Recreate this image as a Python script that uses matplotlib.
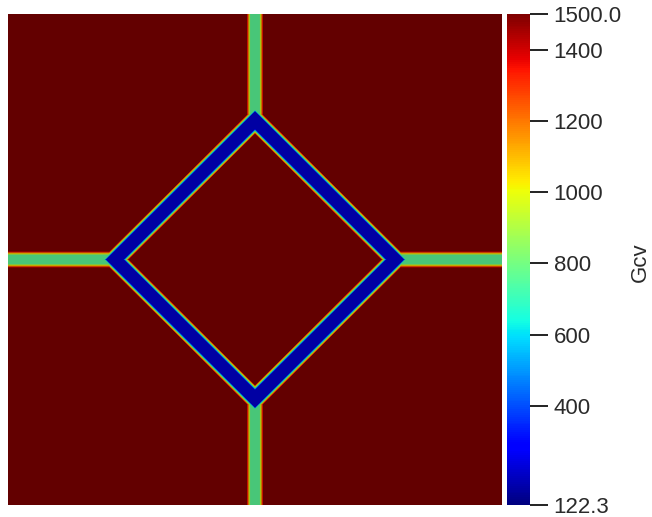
import numpy as np
import matplotlib
matplotlib.use("Agg")
import matplotlib.pyplot as plt
from matplotlib.colors import Normalize, ListedColormap
from matplotlib.cm import ScalarMappable

plt.rcParams['font.family'] = ['Liberation Sans', 'DejaVu Sans']

# Gcv values of the three phases
gcv_min = 122.3
gcv_max = 1500.0
gcv_matrix = 1500.0
gcv_crack = 220.0
gcv_branch = 760.0

# geometry (unit square)
center = (0.5, 0.5)
diamond_radius = 0.284
crack_half_width = 0.016
branch_half_width = 0.013
edge_soft = 0.004

cbar_ticks = [122.3, 400, 600, 800, 1000, 1200, 1400, 1500.0]
cbar_labels = ['122.3', '400', '600', '800', '1000', '1200', '1400', '1500.0']

nx, ny = 494, 491
x = np.linspace(0, 1, nx)
y = np.linspace(0, 1, ny)
X, Y = np.meshgrid(x, y)
dx = X - center[0]
dy = Y - center[1]


def band(dist, hw):
    # soft-edged band: 1 inside, 0 outside
    return np.clip((hw + edge_soft - dist) / (2 * edge_soft), 0, 1)


# diamond crack
d_diamond = np.abs(np.abs(dx) + np.abs(dy) - diamond_radius) / np.sqrt(2)
w_crack = band(d_diamond, crack_half_width)

# straight branches from the diamond tips to the edges
d_vert = np.where(np.abs(dy) >= diamond_radius, np.abs(dx), 1.0)
d_horz = np.where(np.abs(dx) >= diamond_radius, np.abs(dy), 1.0)
w_branch = np.maximum(band(d_vert, branch_half_width), band(d_horz, branch_half_width))

field_branch = gcv_matrix + (gcv_branch - gcv_matrix) * w_branch
field_crack = gcv_matrix + (gcv_crack - gcv_matrix) * w_crack
field = np.minimum(field_branch, field_crack)

norm = Normalize(vmin=gcv_min, vmax=gcv_max)
jet = plt.get_cmap('jet')
# surface colours are a bit darker than the bar (scene lighting)
shade = jet(np.linspace(0, 1, 256))
shade[:, :3] *= 0.78
jet_shaded = ListedColormap(shade)

fig = plt.figure(figsize=(6.52, 5.17), dpi=100)
W, H = 652, 517

ax = fig.add_axes([8 / W, 1 - 505 / H, 494 / W, 491 / H])
ax.imshow(field, cmap=jet_shaded, norm=norm, origin='lower',
          extent=[0, 1, 0, 1], aspect='auto', interpolation='bilinear')
ax.set_axis_off()

cax = fig.add_axes([507 / W, 1 - 505 / H, 23 / W, 491 / H])
sm = ScalarMappable(norm=norm, cmap=jet)
cb = fig.colorbar(sm, cax=cax, ticks=cbar_ticks)
cb.outline.set_visible(False)
cb.ax.set_yticklabels(cbar_labels)
cb.ax.tick_params(length=13, width=1.4, color='#222222', labelsize=16,
                  labelcolor='#2a2a2a', pad=4)

fig.text(640 / W, 1 - 262 / H, 'Gcv', rotation=90, fontsize=16,
         color='#2a2a2a', ha='center', va='center')

fig.savefig('out.png', dpi=100)
